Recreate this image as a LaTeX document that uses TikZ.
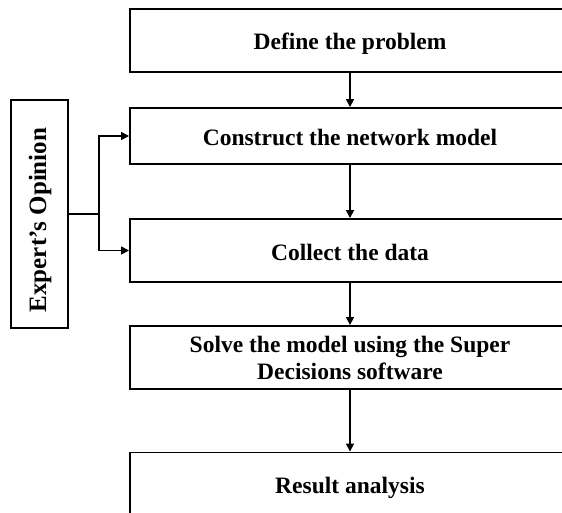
\documentclass[tikz,border=0pt]{standalone}
\usepackage{fontspec}
\setmainfont{Liberation Serif}
\usetikzlibrary{arrows.meta}

\begin{document}
\begin{tikzpicture}[x=1pt, y=-1pt,
  boxbase/.style={draw, line width=1.9pt, minimum width=440pt, align=center,
    inner sep=0pt, font=\fontsize{23.5}{27}\selectfont\bfseries, text=black},
  stepbox/.style={boxbase, text height=19pt, text depth=0pt},
  sidebox/.style={draw, line width=1.9pt, minimum width=57pt, minimum height=228pt,
    inner sep=0pt},
  sidelabel/.style={rotate=90, inner sep=0pt, font=\fontsize{25}{28}\selectfont\bfseries, text=black},
  flow/.style={line width=1.6pt, -{Triangle[length=8pt, width=8pt]}},
  link/.style={line width=1.6pt}]

  % page frame
  \useasboundingbox (0,0) rectangle (562,513);
  \clip (0,0) rectangle (562,513);

  % main sequence of steps
  \node[stepbox, minimum height=63pt] (define)    at (350,40.5)  {Define the problem};
  \node[stepbox, minimum height=56pt] (construct) at (350,136)   {Construct the network model};
  \node[stepbox, minimum height=63pt] (collect)   at (350,250.5) {Collect the data};
  \node[boxbase, minimum height=63pt] (solve)     at (350,357.5)
    {Solve the model using the Super\\Decisions software};
  \node[stepbox, minimum height=63pt] (result)    at (350,484)   {Result analysis};

  % side input
  \node[sidebox] (expert) at (39.5,214) {};
  \node[sidelabel] (expertlabel) at (40,220) {Expert’s Opinion};
  \coordinate (split) at (99,214);

  % connectors
  \draw[flow] (define) -- (construct);
  \draw[flow] (construct) -- (collect);
  \draw[flow] (collect) -- (solve);
  \draw[flow] (solve) -- (result);

  \draw[link] (expert.east) -- (split);
  \draw[flow] (split) |- (construct.west);
  \draw[flow] (split) |- (collect.west);
\end{tikzpicture}
\end{document}
